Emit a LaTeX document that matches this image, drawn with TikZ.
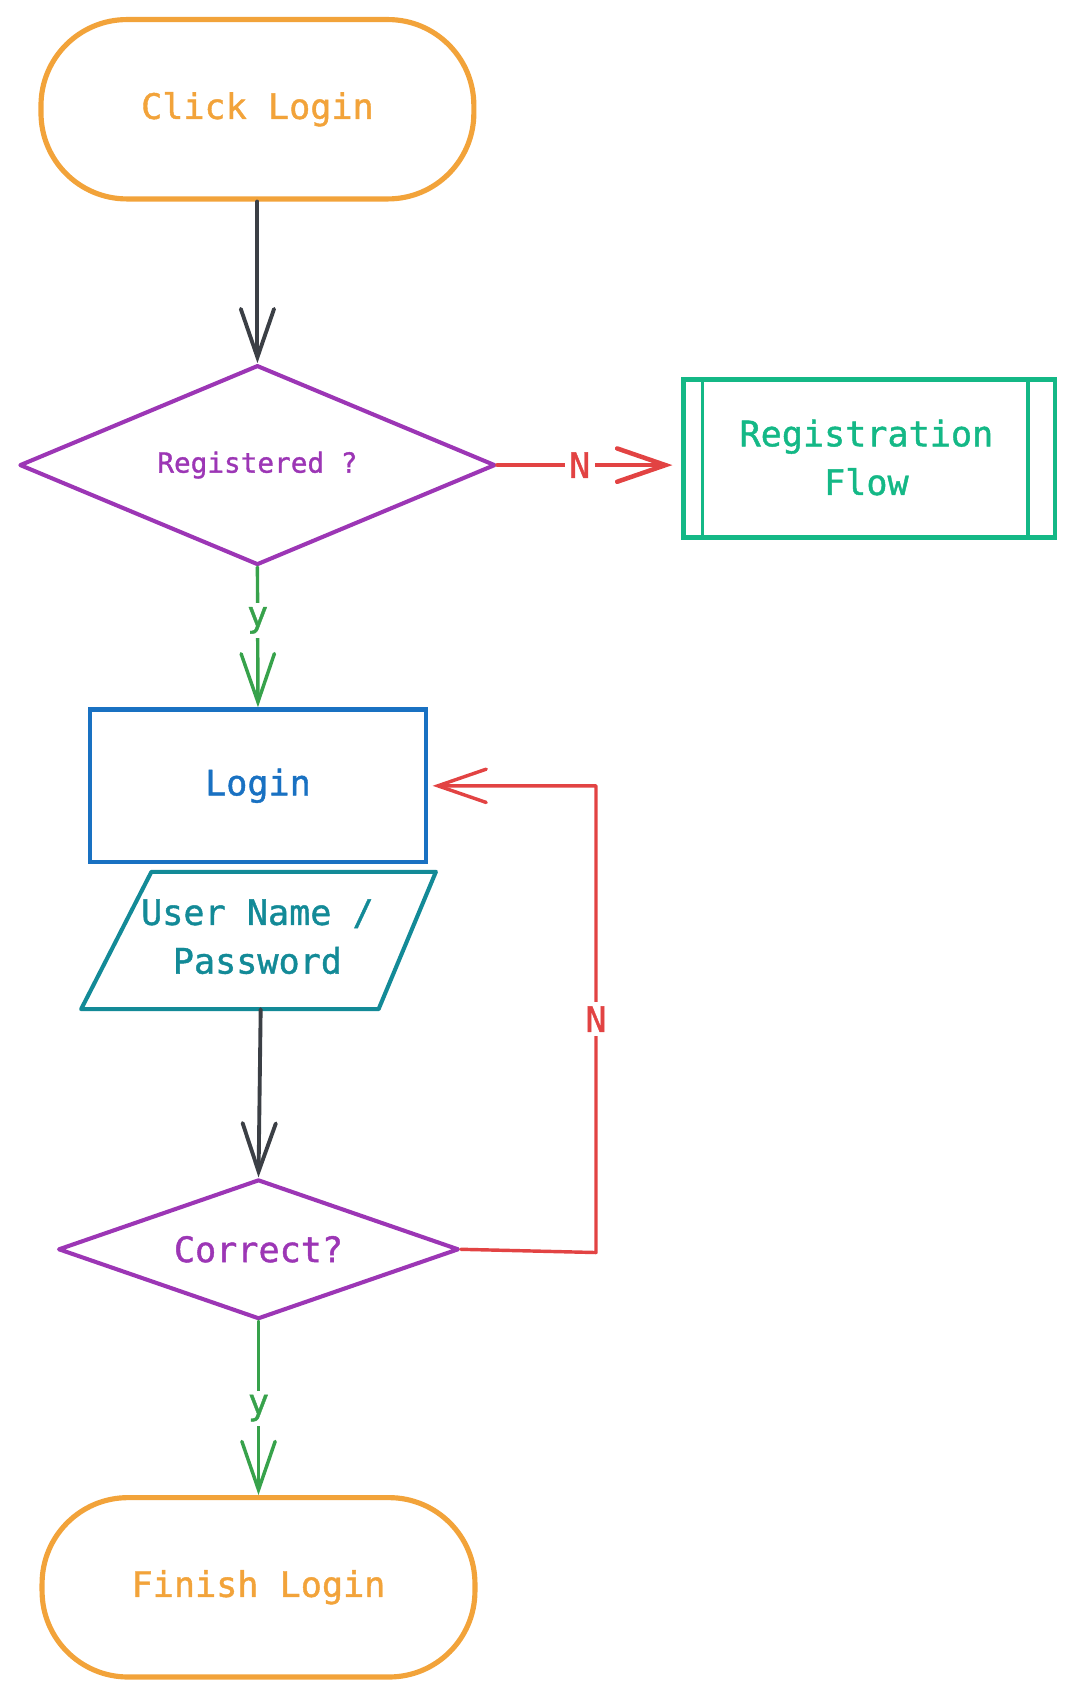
\documentclass[tikz,border=0pt]{standalone}
\usepackage{fontspec}
\setmonofont[FakeBold=1.2]{DejaVu Sans Mono}
\usetikzlibrary{arrows.meta,shapes.geometric}
\definecolor{cOrange}{HTML}{F2A33A}
\definecolor{cDark}{HTML}{3B3F45}
\definecolor{cPurple}{HTML}{9C36B5}
\definecolor{cRed}{HTML}{E24343}
\definecolor{cGreen}{HTML}{14B886}
\definecolor{cArrowGreen}{HTML}{37A24B}
\definecolor{cBlue}{HTML}{1971C2}
\definecolor{cTeal}{HTML}{138A97}
\begin{document}
\begin{tikzpicture}[x=1.007pt,y=-1.007pt,
  every node/.style={font=\ttfamily\fontsize{32.7}{45.3}\selectfont, inner sep=0pt, align=center},
  terminal/.style={draw=cOrange, line width=4.8pt, rounded corners=80pt, minimum width=403pt, minimum height=167pt, text=cOrange},
  decision/.style={diamond, draw=cPurple, line width=3.8pt, text=cPurple, line join=round},
  process/.style={draw=cBlue, line width=4.2pt, minimum width=313pt, minimum height=142pt, text=cBlue},
  subproc/.style={draw=cGreen, line width=4.2pt, minimum width=346pt, minimum height=147pt},
  flow/.style={line width=3.6pt, line cap=round, -{Straight Barb[length=45pt,width=31pt,line cap=round]}},
  lbl/.style={fill=white, inner sep=4pt}
]
\useasboundingbox (0,0) rectangle (993,1568);

\node[terminal] (start) at (238,101) {\raisebox{-4pt}{Click Login}};
\node[decision, aspect=2.38, minimum width=443pt, minimum height=186pt] (reg1) at (238,430)
  {\fontsize{25.8}{30}\selectfont Registered ?};
\node[subproc] (regflow) at (803.5,424) {};
\node[text=cGreen] (regtext) at (801,423) {Registration\\Flow};
\draw[cGreen, line width=3.4pt] ([xshift=20pt]regflow.north west) -- ([xshift=20pt]regflow.south west);
\draw[cGreen, line width=3.4pt] ([xshift=-27pt]regflow.north east) -- ([xshift=-27pt]regflow.south east);

\node[process] (login) at (238.5,726.5) {Login};

\draw[cTeal, line width=3.8pt, line join=round] (140,806) -- (403,806) -- (350,933) -- (75,933) -- cycle;
\node[text=cTeal] (io) at (238,866) {User Name /\\Password};
\coordinate (iobot) at (241,933);

\node[decision, aspect=2.87, minimum width=373pt, minimum height=130pt] (correct) at (239,1155) {Correct?};
\node[terminal] (finish) at (239,1467.5) {\raisebox{-3pt}{Finish Login}};

% connectors
\draw[flow, cDark] (start) -- (reg1.north);
\draw[flow, cRed, line width=4.2pt] (reg1.east) -- node[lbl, text=cRed, pos=0.47] {N} ([xshift=-8pt]reg1.east -| regflow.west);
\draw[flow, cArrowGreen, line width=3.2pt] (reg1.south) -- node[lbl, text=cArrowGreen, pos=0.38] {y} (login.north);
\draw[flow, cDark] (iobot) -- (correct.north);
\coordinate (loopcorner) at (551,1158);
\draw[flow, cRed, line width=3.2pt, line join=round] (correct.east) -- (loopcorner) |- node[lbl, text=cRed, pos=0.25] {N} ([xshift=4pt]login.east);
\draw[flow, cArrowGreen, line width=3.2pt] (correct.south) -- node[lbl, text=cArrowGreen, pos=0.5] {y} (finish.north);
\end{tikzpicture}
\end{document}
